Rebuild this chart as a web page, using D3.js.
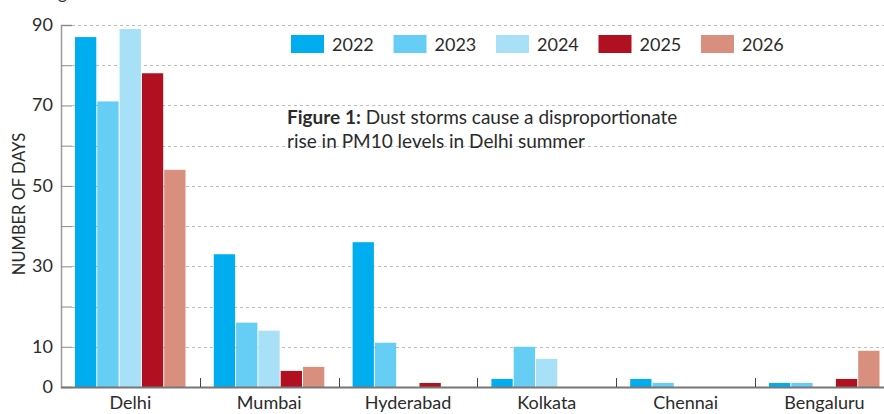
<html>
<head>
<style>
  body { margin: 0; background: #fff; }
  svg text { font-family: Lato, "Noto Sans", sans-serif; fill: #2b2b2b; }
</style>
<script src="https://cdn.jsdelivr.net/npm/d3@7"></script>
</head>
<body>
<svg width="884" height="414"></svg>
<script>
  // data
  var cities = ["Delhi", "Mumbai", "Hyderabad", "Kolkata", "Chennai", "Bengaluru"];
  var years = ["2022", "2023", "2024", "2025", "2026"];
  var colors = ["#00aeef", "#66cdf5", "#a8e1f7", "#b01020", "#d98f7d"];
  var v2022 = [87, 33, 36, 2, 2, 1];
  var v2023 = [71, 16, 11, 10, 1, 1];
  var v2024 = [89, 14, 0, 7, 0, 0];
  var v2025 = [78, 4, 1, 0, 0, 2];
  var v2026 = [54, 5, 0, 0, 0, 9];
  var yTicks = [0, 10, 20, 30, 40, 50, 60, 70, 80, 90];
  var yLabels = [0, 10, 30, 50, 70, 90];

  var series = [v2022, v2023, v2024, v2025, v2026];

  var svg = d3.select("svg");
  var plotLeft = 61, plotBottom = 387, plotTop = 25;

  var x0 = d3.scaleBand().domain(cities).range([plotLeft, plotLeft + 6 * 138.8]);
  var x1 = d3.scaleBand().domain(years).range([14, 124.5]).paddingInner(0.045);
  var y = d3.scaleLinear().domain([0, 90]).range([plotBottom, plotTop]);

  // dashed grid
  svg.append("g").selectAll("line")
    .data(yTicks.filter(function(d){ return d > 0; }))
    .enter().append("line")
    .attr("x1", plotLeft + 11).attr("x2", 884)
    .attr("y1", function(d){ return Math.round(y(d)) + 0.5; })
    .attr("y2", function(d){ return Math.round(y(d)) + 0.5; })
    .attr("stroke", "#bdbdbd")
    .attr("stroke-dasharray", "3,3");

  // y axis, ticks pointing inward
  var yAxis = svg.append("g")
    .attr("transform", "translate(" + plotLeft + ",0)")
    .call(d3.axisRight(y).tickValues(yTicks).tickSize(11).tickFormat(""));
  yAxis.select(".domain").attr("stroke", "#9a9a9a").attr("stroke-width", 1.5);
  yAxis.selectAll(".tick line").attr("stroke", "#8a8a8a");

  svg.append("g").selectAll("text")
    .data(yLabels)
    .enter().append("text")
    .attr("x", 53)
    .attr("y", function(d){ return y(d) + 6; })
    .attr("text-anchor", "end")
    .attr("font-size", "18px")
    .text(function(d){ return d; });

  svg.append("text")
    .attr("transform", "translate(25,204) rotate(-90)")
    .attr("text-anchor", "middle")
    .attr("font-size", "16.5px")
    .text("NUMBER OF DAYS");

  // bars
  var groups = svg.append("g").selectAll("g")
    .data(cities)
    .enter().append("g")
    .attr("transform", function(d){ return "translate(" + x0(d) + ",0)"; });

  groups.selectAll("rect")
    .data(function(c, i){
      return years.map(function(yr, j){ return {year: yr, value: series[j][i], color: colors[j]}; });
    })
    .enter().append("rect")
    .attr("x", function(d){ return x1(d.year); })
    .attr("width", x1.bandwidth())
    .attr("y", function(d){ return y(d.value); })
    .attr("height", function(d){ return plotBottom - y(d.value); })
    .attr("fill", function(d){ return d.color; });

  // x axis
  svg.append("line")
    .attr("x1", plotLeft).attr("x2", 884)
    .attr("y1", plotBottom + 0.5).attr("y2", plotBottom + 0.5)
    .attr("stroke", "#777").attr("stroke-width", 2);

  svg.append("g").selectAll("line")
    .data(cities.slice(1))
    .enter().append("line")
    .attr("x1", function(d){ return Math.round(x0(d)) + 0.5; })
    .attr("x2", function(d){ return Math.round(x0(d)) + 0.5; })
    .attr("y1", plotBottom - 9).attr("y2", plotBottom)
    .attr("stroke", "#444");

  svg.append("g").selectAll("text")
    .data(cities)
    .enter().append("text")
    .attr("x", function(d){ return x0(d) + x0.bandwidth() / 2; })
    .attr("y", 409)
    .attr("text-anchor", "middle")
    .attr("font-size", "18px")
    .text(function(d){ return d; });

  // legend
  var legend = svg.append("g").selectAll("g")
    .data(years)
    .enter().append("g")
    .attr("transform", function(d, i){ return "translate(" + (291 + i * 102.5) + ",35)"; });
  legend.append("rect")
    .attr("width", 33).attr("height", 18)
    .attr("fill", function(d, i){ return colors[i]; });
  legend.append("text")
    .attr("x", 41).attr("y", 16)
    .attr("font-size", "18px")
    .text(function(d){ return d; });

  // caption
  var cap = svg.append("text").attr("x", 287).attr("y", 124).attr("font-size", "19px");
  cap.append("tspan").attr("font-weight", "bold").text("Figure 1:");
  cap.append("tspan").text(" Dust storms cause a disproportionate");
  svg.append("text").attr("x", 287).attr("y", 148).attr("font-size", "19px")
    .text("rise in PM10 levels in Delhi summer");

  // cut-off text at the very top
  svg.append("text").attr("x", 58).attr("y", -1).attr("font-size", "17px").text("g");
</script>
</body>
</html>
